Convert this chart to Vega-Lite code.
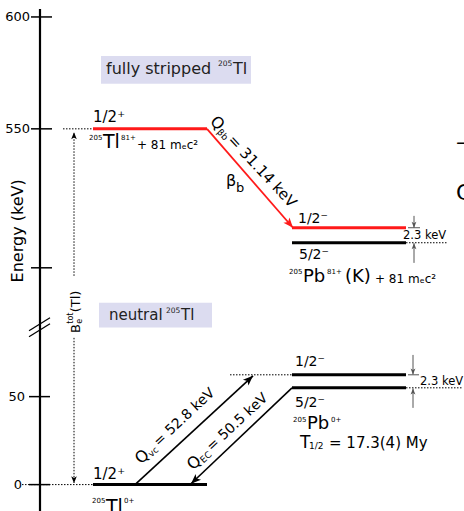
{
 "$schema": "https://vega.github.io/schema/vega-lite/v6.json",
 "width": 464, "height": 511, "padding": 0, "autosize": "none",
 "background": "white",
 "config": {"view": {"stroke": null}, "font": "DejaVu Sans"},
 "datasets": {
  "boxes": [{"x":101,"x2":251,"y":582.6,"y2":570.1},{"x":99,"x2":212,"y":472.3,"y2":461.2}],
  "axisLine": [{"x":40,"x2":40,"y":603.5,"y2":-15}],
  "ticks": [{"x":31,"x2":52,"y":600,"y2":600},{"x":31,"x2":52,"y":550,"y2":550},{"x":31,"x2":52,"y":487.9,"y2":487.9},{"x":29,"x2":50,"y":50,"y2":50},{"x":29,"x2":50,"y":0,"y2":0}],
  "slashes": [{"x":29,"y":87.4,"x2":50,"y2":465.55},{"x":29,"y":84.0,"x2":50,"y2":462.9}],
  "redLevels": [{"x":93,"x2":207,"y":550,"y2":550},{"x":292,"x2":406,"y":505.8,"y2":505.8}],
  "blackLevels": [{"x":292,"x2":406,"y":499.1,"y2":499.1},{"x":93,"x2":207,"y":0,"y2":0},{"x":292,"x2":406,"y":62.4,"y2":62.4},{"x":292,"x2":406,"y":55.0,"y2":55.0}],
  "dotted": [{"x":63,"x2":93,"y":550,"y2":550},{"x":22,"x2":93,"y":0,"y2":0},{"x":406,"x2":447,"y":499.1,"y2":499.1},{"x":230,"x2":292,"y":62.4,"y2":62.4},{"x":406,"x2":463,"y":55.0,"y2":55.0},{"x":74,"x2":74,"y":548,"y2":483.9},{"x":74,"x2":74,"y":83.4,"y2":1}],
  "redArrow": [{"x":207,"y":550,"x2":293,"y2":505.8}],
  "blackArrows": [{"x":135,"y":0,"x2":253,"y2":61.8},{"x":292,"y":55.0,"x2":191,"y2":0.5}],
  "greyLines": [{"x":408,"x2":420,"y":505.8,"y2":505.8},{"x":414,"x2":414,"y":511.1,"y2":505.8},{"x":414,"x2":414,"y":490.1,"y2":498.9},{"x":408,"x2":419,"y":62.4,"y2":62.4},{"x":413,"x2":413,"y":73.7,"y2":62.6},{"x":413,"x2":413,"y":43.6,"y2":54.6}],
  "headRed": [{"x":293,"y":505.8}],
  "headUpRight": [{"x":253,"y":61.8}],
  "headDownLeft": [{"x":191,"y":0.5}],
  "headGreyDown": [{"x":414,"y":505.8},{"x":413,"y":62.6}],
  "headGreyUp": [{"x":414,"y":498.9},{"x":413,"y":54.6}],
  "headDotUp": [{"x":74,"y":548.5}],
  "headDotDown": [{"x":74,"y":0.8}],
  "tickLabels": [{"x":30,"y":600,"t":"600"},{"x":30,"y":550,"t":"550"},{"x":25,"y":50,"t":"50"},{"x":22,"y":0,"t":"0"}],
  "title": [{"x":18,"y":504.4,"t":"Energy (keV)"}],
  "spin15": [{"x":93,"y":555.1,"t":"1/2⁺"},{"x":93,"y":6.0,"t":"1/2⁺"}],
  "spin14": [{"x":298,"y":509.8,"t":"1/2⁻"},{"x":299,"y":493.7,"t":"5/2⁻"},{"x":295,"y":69.5,"t":"1/2⁻"},{"x":295,"y":46.4,"t":"5/2⁻"}],
  "big19": [{"x":103,"y":544.0,"t":"Tl"},{"x":106,"y":-13.0,"t":"Tl"}],
  "big18": [{"x":303,"y":483.9,"t":"Pb"},{"x":345,"y":483.9,"t":"(K)"},{"x":307,"y":34.2,"t":"Pb"}],
  "sup": [{"x":89,"y":546.0,"t":"205"},{"x":121,"y":546.0,"t":"81+"},{"x":289,"y":486.1,"t":"205"},{"x":327,"y":486.1,"t":"81+"},{"x":92,"y":-9.6,"t":"205"},{"x":124,"y":-9.6,"t":"0+"},{"x":293,"y":36.8,"t":"205"},{"x":331,"y":36.8,"t":"0+"}],
  "plus": [{"x":137,"y":542.9,"t":"+ 81 mₑc²"},{"x":375,"y":483.0,"t":"+ 81 mₑc²"}],
  "box16": [{"x":106,"y":576.8,"t":"fully stripped"},{"x":233,"y":576.8,"t":"Tl"}],
  "box15": [{"x":109,"y":466.9,"t":"neutral"},{"x":181,"y":466.9,"t":"Tl"}],
  "boxsup": [{"x":218,"y":578.8,"t":"205"},{"x":166,"y":468.7,"t":"205"}],
  "kev": [{"x":403,"y":502.0,"t":"2.3 keV"},{"x":420,"y":58.4,"t":"2.3 keV"}],
  "tT": [{"x":300,"y":23.4,"t":"T"}],
  "tHalf": [{"x":309,"y":21.7,"t":"1/2"}],
  "tEq": [{"x":329,"y":23.4,"t":"= 17.3(4) My"}],
  "beta": [{"x":226,"y":526.8,"t":"β"}],
  "betaSub": [{"x":236,"y":523.6,"t":"b"}],
  "qbQ": [{"x":213,"y":554.6,"t":"Q"}],
  "qbSub": [{"x":218.7,"y":549.3,"t":"βb"}],
  "qbRest": [{"x":230.7,"y":546.2,"t":"= 31.14 keV"}],
  "q43Q": [{"x":137.6,"y":13.4,"t":"Q"},{"x":189.6,"y":10.0,"t":"Q"}],
  "q43Sub": [{"x":149.5,"y":16.6,"t":"vc"},{"x":201.5,"y":13.3,"t":"EC"}],
  "q43Rest": [{"x":155.9,"y":23.1,"t":"= 52.8 keV"},{"x":209,"y":20.3,"t":"= 50.5 keV"}],
  "beMain": [{"x":76,"y":86.2,"t":"B"},{"x":76,"y":468.0,"t":"(Tl)"}],
  "beSmall": [{"x":80,"y":462.9,"t":"e"},{"x":71,"y":462.9,"t":"tot"}],
  "cut": [{"x":456,"y":544.2,"t":"–"},{"x":456,"y":521.2,"t":"C"}]
 },
 "encoding": {
  "x": {"field":"x","type":"quantitative","scale":{"domain":[0,464],"nice":false,"zero":false},"axis":null},
  "y": {"field":"y","type":"quantitative","scale":{"domain":[-15,89,461,604],"range":[511,328,328,8],"nice":false,"zero":false},"axis":null}
 },
 "layer": [
  {"data":{"name":"boxes"},"mark":{"type":"rect","color":"#dcdcf0"},"encoding":{"x2":{"field":"x2"},"y2":{"field":"y2"}}},
  {"data":{"name":"axisLine"},"mark":{"type":"rule","color":"black","strokeWidth":2.2},"encoding":{"x2":{"field":"x2"},"y2":{"field":"y2"}}},
  {"data":{"name":"ticks"},"mark":{"type":"rule","color":"black","strokeWidth":1.5},"encoding":{"x2":{"field":"x2"},"y2":{"field":"y2"}}},
  {"data":{"name":"slashes"},"mark":{"type":"rule","color":"black","strokeWidth":1.3},"encoding":{"x2":{"field":"x2"},"y2":{"field":"y2"}}},
  {"data":{"name":"dotted"},"mark":{"type":"rule","color":"black","strokeWidth":1,"strokeDash":[1.5,1.5]},"encoding":{"x2":{"field":"x2"},"y2":{"field":"y2"}}},
  {"data":{"name":"redLevels"},"mark":{"type":"rule","color":"#ff1a1a","strokeWidth":3},"encoding":{"x2":{"field":"x2"},"y2":{"field":"y2"}}},
  {"data":{"name":"blackLevels"},"mark":{"type":"rule","color":"black","strokeWidth":3},"encoding":{"x2":{"field":"x2"},"y2":{"field":"y2"}}},
  {"data":{"name":"redArrow"},"mark":{"type":"rule","color":"#ff1a1a","strokeWidth":1.8},"encoding":{"x2":{"field":"x2"},"y2":{"field":"y2"}}},
  {"data":{"name":"blackArrows"},"mark":{"type":"rule","color":"black","strokeWidth":1.6},"encoding":{"x2":{"field":"x2"},"y2":{"field":"y2"}}},
  {"data":{"name":"greyLines"},"mark":{"type":"rule","color":"#555555","strokeWidth":1},"encoding":{"x2":{"field":"x2"},"y2":{"field":"y2"}}},
  {"data":{"name":"headRed"},"mark":{"type":"point","shape":"M0,0L-0.4,1L0,0.75L0.4,1Z","filled":true,"opacity":1,"size":400,"angle":139,"color":"#ff1a1a","strokeWidth":0}},
  {"data":{"name":"headUpRight"},"mark":{"type":"point","shape":"M0,0L-0.4,1L0,0.75L0.4,1Z","filled":true,"opacity":1,"size":400,"angle":47,"color":"black","strokeWidth":0}},
  {"data":{"name":"headDownLeft"},"mark":{"type":"point","shape":"M0,0L-0.4,1L0,0.75L0.4,1Z","filled":true,"opacity":1,"size":400,"angle":227,"color":"black","strokeWidth":0}},
  {"data":{"name":"headGreyDown"},"mark":{"type":"point","shape":"M0,0L-0.4,1L0,0.75L0.4,1Z","filled":true,"opacity":1,"size":144,"angle":180,"color":"#555555","strokeWidth":0}},
  {"data":{"name":"headGreyUp"},"mark":{"type":"point","shape":"M0,0L-0.4,1L0,0.75L0.4,1Z","filled":true,"opacity":1,"size":144,"angle":0,"color":"#555555","strokeWidth":0}},
  {"data":{"name":"headDotUp"},"mark":{"type":"point","shape":"M0,0L-0.4,1L0,0.75L0.4,1Z","filled":true,"opacity":1,"size":196,"angle":0,"color":"black","strokeWidth":0}},
  {"data":{"name":"headDotDown"},"mark":{"type":"point","shape":"M0,0L-0.4,1L0,0.75L0.4,1Z","filled":true,"opacity":1,"size":196,"angle":180,"color":"black","strokeWidth":0}},
  {"data":{"name":"tickLabels"},"mark":{"type":"text","align":"right","baseline":"middle","fontSize":13,"color":"black"},"encoding":{"text":{"field":"t"}}},
  {"data":{"name":"title"},"mark":{"type":"text","align":"center","baseline":"middle","fontSize":16,"angle":-90,"color":"black"},"encoding":{"text":{"field":"t"}}},
  {"data":{"name":"spin15"},"mark":{"type":"text","align":"left","baseline":"middle","fontSize":15,"color":"black"},"encoding":{"text":{"field":"t"}}},
  {"data":{"name":"spin14"},"mark":{"type":"text","align":"left","baseline":"middle","fontSize":14,"color":"black"},"encoding":{"text":{"field":"t"}}},
  {"data":{"name":"big19"},"mark":{"type":"text","align":"left","baseline":"middle","fontSize":19,"color":"black"},"encoding":{"text":{"field":"t"}}},
  {"data":{"name":"big18"},"mark":{"type":"text","align":"left","baseline":"middle","fontSize":18,"color":"black"},"encoding":{"text":{"field":"t"}}},
  {"data":{"name":"sup"},"mark":{"type":"text","align":"left","baseline":"middle","fontSize":7,"color":"black"},"encoding":{"text":{"field":"t"}}},
  {"data":{"name":"plus"},"mark":{"type":"text","align":"left","baseline":"middle","fontSize":12,"color":"black"},"encoding":{"text":{"field":"t"}}},
  {"data":{"name":"box16"},"mark":{"type":"text","align":"left","baseline":"middle","fontSize":16,"color":"#222222"},"encoding":{"text":{"field":"t"}}},
  {"data":{"name":"box15"},"mark":{"type":"text","align":"left","baseline":"middle","fontSize":15,"color":"#222222"},"encoding":{"text":{"field":"t"}}},
  {"data":{"name":"boxsup"},"mark":{"type":"text","align":"left","baseline":"middle","fontSize":7.5,"color":"#222222"},"encoding":{"text":{"field":"t"}}},
  {"data":{"name":"kev"},"mark":{"type":"text","align":"left","baseline":"middle","fontSize":11.5,"color":"black"},"encoding":{"text":{"field":"t"}}},
  {"data":{"name":"tT"},"mark":{"type":"text","align":"left","baseline":"middle","fontSize":17,"color":"black"},"encoding":{"text":{"field":"t"}}},
  {"data":{"name":"tHalf"},"mark":{"type":"text","align":"left","baseline":"middle","fontSize":9,"color":"black"},"encoding":{"text":{"field":"t"}}},
  {"data":{"name":"tEq"},"mark":{"type":"text","align":"left","baseline":"middle","fontSize":15,"color":"black"},"encoding":{"text":{"field":"t"}}},
  {"data":{"name":"beta"},"mark":{"type":"text","align":"left","baseline":"middle","fontSize":16,"color":"black"},"encoding":{"text":{"field":"t"}}},
  {"data":{"name":"betaSub"},"mark":{"type":"text","align":"left","baseline":"middle","fontSize":13,"color":"black"},"encoding":{"text":{"field":"t"}}},
  {"data":{"name":"qbQ"},"mark":{"type":"text","align":"left","baseline":"middle","fontSize":16,"angle":47,"color":"black"},"encoding":{"text":{"field":"t"}}},
  {"data":{"name":"qbSub"},"mark":{"type":"text","align":"left","baseline":"middle","fontSize":9,"angle":47,"color":"black"},"encoding":{"text":{"field":"t"}}},
  {"data":{"name":"qbRest"},"mark":{"type":"text","align":"left","baseline":"middle","fontSize":15,"angle":47,"color":"black"},"encoding":{"text":{"field":"t"}}},
  {"data":{"name":"q43Q"},"mark":{"type":"text","align":"left","baseline":"middle","fontSize":16,"angle":-43,"color":"black"},"encoding":{"text":{"field":"t"}}},
  {"data":{"name":"q43Sub"},"mark":{"type":"text","align":"left","baseline":"middle","fontSize":9,"angle":-43,"color":"black"},"encoding":{"text":{"field":"t"}}},
  {"data":{"name":"q43Rest"},"mark":{"type":"text","align":"left","baseline":"middle","fontSize":14,"angle":-43,"color":"black"},"encoding":{"text":{"field":"t"}}},
  {"data":{"name":"beMain"},"mark":{"type":"text","align":"left","baseline":"middle","fontSize":13,"angle":-90,"color":"black"},"encoding":{"text":{"field":"t"}}},
  {"data":{"name":"beSmall"},"mark":{"type":"text","align":"left","baseline":"middle","fontSize":8,"angle":-90,"color":"black"},"encoding":{"text":{"field":"t"}}},
  {"data":{"name":"cut"},"mark":{"type":"text","align":"left","baseline":"middle","fontSize":22,"color":"black"},"encoding":{"text":{"field":"t"}}}
 ]
}
